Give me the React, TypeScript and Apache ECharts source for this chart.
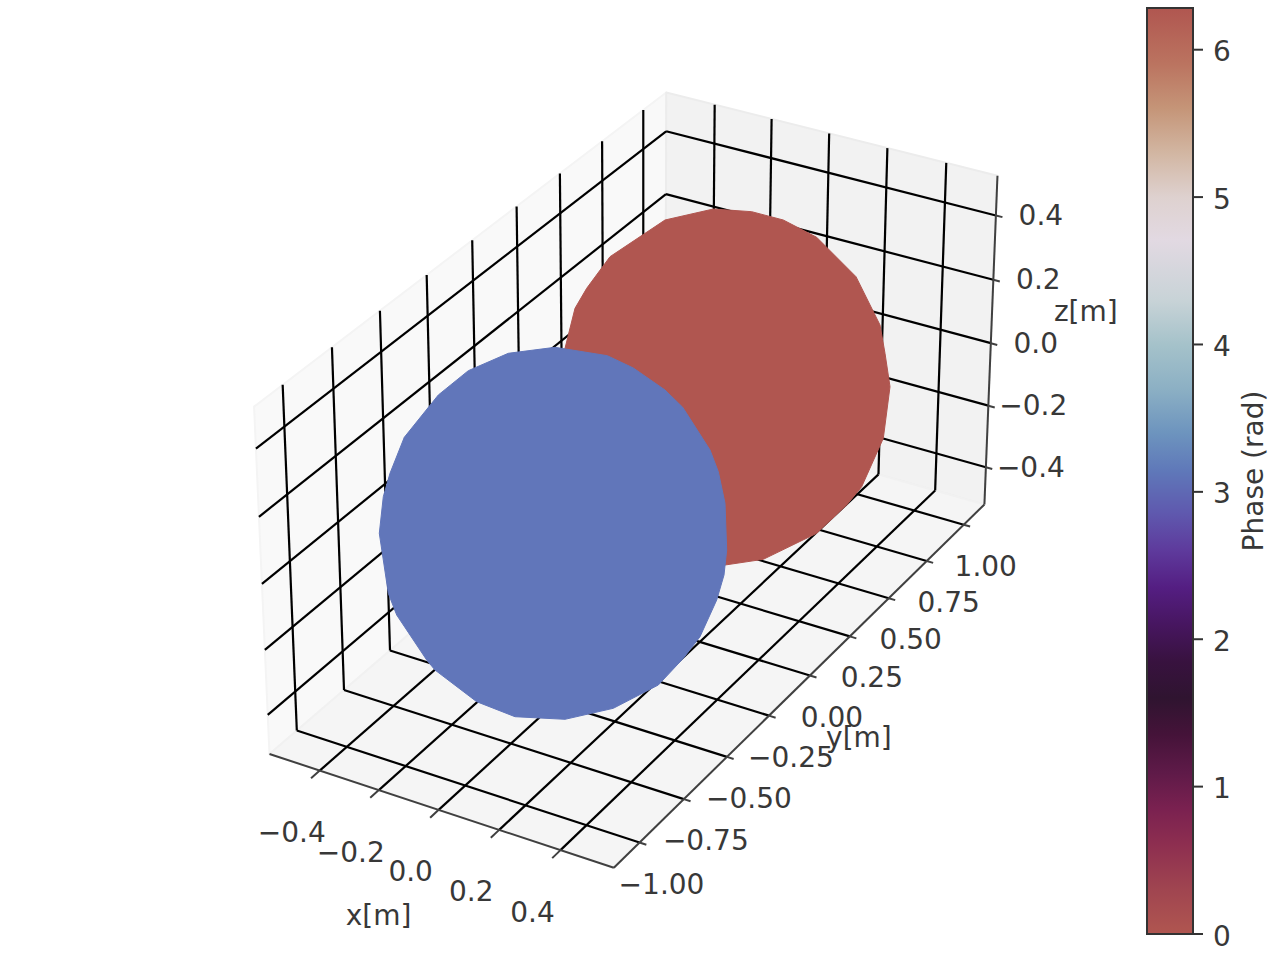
import React, { useEffect, useRef } from "react";
import * as echarts from "echarts";

// ---- axis tick values and labels ----
const xTicks = [-0.4, -0.2, 0, 0.2, 0.4];
const xTickLabels = ["−0.4", "−0.2", "0.0", "0.2", "0.4"];
const yTicks = [-1, -0.75, -0.5, -0.25, 0, 0.25, 0.5, 0.75, 1];
const yTickLabels = ["−1.00", "−0.75", "−0.50", "−0.25", "0.00", "0.25", "0.50", "0.75", "1.00"];
const zTicks = [-0.4, -0.2, 0, 0.2, 0.4];
const zTickLabels = ["−0.4", "−0.2", "0.0", "0.2", "0.4"];
const xLim = [-0.572, 0.572];
const yLim = [-1.142, 1.142];
const zLim = [-0.522, 0.522];

// ---- sphere silhouettes, read in the picture plane ----
const redOutlineX = [665, 713.3, 751.7, 783.3, 816.7, 856, 880, 885, 890, 883.3, 861.7, 846.7, 816.7, 763.3, 725, 650, 550, 550, 565, 575, 586.7, 610];
const redOutlineY = [220, 209, 211.7, 220, 237.3, 276.7, 325, 353.3, 386.7, 438.3, 486.7, 505, 533.3, 559.3, 565, 533, 467, 367, 348.3, 308.3, 288.3, 256.7];
const blueOutlineX = [508.3, 555, 607.3, 633.3, 665, 682.7, 710, 718.3, 725, 726.7, 724, 716.7, 700, 683.3, 658.3, 613.3, 565, 515, 476.7, 435, 426.7, 396.7, 388.3, 379.3, 383.3, 390, 404.3, 438.3, 468.3];
const blueOutlineY = [353.3, 347.3, 355.7, 368, 390, 407.3, 450, 471.7, 503.3, 550, 575, 600, 636.7, 658.3, 685, 708.3, 719.3, 716.7, 701.7, 670, 660, 615, 593.3, 533.3, 496.7, 473.3, 437.3, 395, 370.7];

// ---- colour bar ----
const phaseMax = 6.283;
const phaseTicks = [0, 1, 2, 3, 4, 5, 6];
const phaseTickLabels = ["0", "1", "2", "3", "4", "5", "6"];
const phaseStops = [0, 0.3, 0.6, 0.85, 1.1, 1.35, 1.6, 1.85, 2.1, 2.35, 2.6, 2.85, 3.14, 3.4, 3.7, 4.0, 4.3, 4.71, 5.0, 5.3, 5.6, 5.9, 6.283];
const phaseColors = ["#b05650", "#a04550", "#8e2f50", "#7a2150", "#5e1a48", "#451339", "#2f1430", "#38123f", "#471660", "#541e82", "#5e3a9c", "#5f58ae", "#5f78b9", "#6d94be", "#8cb0c4", "#a5c2ca", "#c8d3d7", "#e2d9e2", "#ded1cf", "#d2b6a2", "#c59578", "#bb7460", "#b05650"];

// ---- camera ----
const camera = { elev: 30, azim: -60, dist: 10, halfX: 0.389, halfY: 0.778, halfZ: 0.389, scale: 5012, cx: 641.5, cy: 458.5 };

function project(x: number, y: number, z: number): [number, number] {
  const dx = ((x - (xLim[0] + xLim[1]) / 2) / ((xLim[1] - xLim[0]) / 2)) * camera.halfX;
  const dy = ((y - (yLim[0] + yLim[1]) / 2) / ((yLim[1] - yLim[0]) / 2)) * camera.halfY;
  const dz = ((z - (zLim[0] + zLim[1]) / 2) / ((zLim[1] - zLim[0]) / 2)) * camera.halfZ;
  const el = (camera.elev * Math.PI) / 180;
  const az = (camera.azim * Math.PI) / 180;
  const w = [Math.cos(el) * Math.cos(az), Math.cos(el) * Math.sin(az), Math.sin(el)];
  const ul = Math.hypot(w[1], w[0]);
  const u = [-w[1] / ul, w[0] / ul, 0];
  const v = [w[1] * u[2] - w[2] * u[1], w[2] * u[0] - w[0] * u[2], w[0] * u[1] - w[1] * u[0]];
  const xv = u[0] * dx + u[1] * dy + u[2] * dz;
  const yv = v[0] * dx + v[1] * dy + v[2] * dz;
  const d = w[0] * dx + w[1] * dy + w[2] * dz;
  const k = camera.scale / (camera.dist - d);
  return [camera.cx + xv * k, camera.cy - yv * k];
}

const FONT = "DejaVu Sans";
const TEXT = "#383838";
const EDGE = "#404040";
const FS = 28;
const xMin = xLim[0], xMax = xLim[1], yMin = yLim[0], yMax = yLim[1], zMin = zLim[0], zMax = zLim[1];
const tickOutX = 0.022, tickOutY = 0.045;

function polygonSeries(name: string, pts: number[][], fill: string, stroke?: string, lw = 0): any {
  return {
    type: "custom", name, xAxisIndex: 0, yAxisIndex: 0, silent: true, clip: false,
    data: [pts[0]], encode: { x: 0, y: 1 },
    renderItem: (_p: any, api: any) => ({
      type: "polygon",
      shape: { points: pts.map((q) => api.coord(q)) },
      style: { fill, stroke: stroke || fill, lineWidth: stroke ? lw : 1, lineJoin: "round" },
    }),
  };
}

function segmentSeries(name: string, segs: number[][], stroke: string, lw: number): any {
  return {
    type: "custom", name, xAxisIndex: 0, yAxisIndex: 0, silent: true, clip: false,
    data: segs, encode: { x: 0, y: 1 },
    renderItem: (_p: any, api: any) => {
      const a = api.coord([api.value(0), api.value(1)]);
      const b = api.coord([api.value(2), api.value(3)]);
      return { type: "line", shape: { x1: a[0], y1: a[1], x2: b[0], y2: b[1] }, style: { stroke, lineWidth: lw, lineCap: "butt" } };
    },
  };
}

function textSeries(name: string, pts: number[][], labels: string[], dx: number, dy: number, size: number): any {
  return {
    type: "custom", name, xAxisIndex: 0, yAxisIndex: 0, silent: true, clip: false,
    data: pts, encode: { x: 0, y: 1 },
    renderItem: (p: any, api: any) => {
      const a = api.coord([api.value(0), api.value(1)]);
      return {
        type: "text", x: a[0] + dx, y: a[1] + dy,
        style: { text: labels[p.dataIndex], fontFamily: FONT, fontSize: size, fill: TEXT, align: "center", verticalAlign: "middle" },
      };
    },
  };
}

const seg = (a: [number, number], b: [number, number]) => [a[0], a[1], b[0], b[1]];

function buildOption(): any {
  const A = project(xMin, yMin, zMin), B = project(xMax, yMin, zMin), C = project(xMax, yMax, zMin);
  const D = project(xMax, yMax, zMax), E = project(xMin, yMax, zMax), F = project(xMin, yMin, zMax), G = project(xMin, yMax, zMin);

  const grid: number[][] = [];
  xTicks.forEach((x) => {
    grid.push(seg(project(x, yMin, zMin), project(x, yMax, zMin)));
    grid.push(seg(project(x, yMax, zMin), project(x, yMax, zMax)));
  });
  yTicks.forEach((y) => {
    grid.push(seg(project(xMax, y, zMin), project(xMin, y, zMin)));
    grid.push(seg(project(xMin, y, zMin), project(xMin, y, zMax)));
  });
  zTicks.forEach((z) => {
    grid.push(seg(project(xMin, yMin, z), project(xMin, yMax, z)));
    grid.push(seg(project(xMin, yMax, z), project(xMax, yMax, z)));
  });

  const ticks: number[][] = [];
  xTicks.forEach((x) => ticks.push(seg(project(x, yMin, zMin), project(x, yMin - tickOutY, zMin))));
  yTicks.forEach((y) => ticks.push(seg(project(xMax, y, zMin), project(xMax + tickOutX, y, zMin))));
  zTicks.forEach((z) => ticks.push(seg(project(xMax, yMax, z), project(xMax + tickOutX, yMax, z))));

  const axes = [seg(A, B), seg(B, C), seg(C, D)];

  const colorStops = phaseStops.map((s, i) => ({ offset: s / phaseMax, color: phaseColors[i] }));

  return {
    animation: false,
    backgroundColor: "#ffffff",
    grid: [
      { left: 0, top: 0, width: 1280, height: 960, show: false },
      { left: 1147, top: 8, width: 46, height: 926, show: false },
    ],
    xAxis: [
      { type: "value", gridIndex: 0, min: 0, max: 1280, show: false },
      { type: "value", gridIndex: 1, min: 0, max: 1, show: false },
    ],
    yAxis: [
      { type: "value", gridIndex: 0, min: 0, max: 960, inverse: true, show: false },
      {
        type: "value", gridIndex: 1, min: 0, max: phaseMax, position: "right",
        name: "Phase (rad)", nameLocation: "middle", nameGap: 46, nameRotate: 90,
        nameTextStyle: { fontFamily: FONT, fontSize: FS, color: TEXT },
        splitLine: { show: false },
        axisLine: { show: false },
        axisTick: { show: false },
        axisLabel: { show: false },
      },
    ],
    series: [
      polygonSeries("pane x", [F, A, G, E], "#f9f9f9", "#f4f4f4", 2),
      polygonSeries("pane y", [C, D, E, G], "#f2f2f2", "#ececec", 2),
      polygonSeries("pane z", [A, B, C, G], "#f5f5f5", "#f1f1f1", 2),
      segmentSeries("grid", grid, "#000000", 2.2),
      segmentSeries("axes", axes, EDGE, 2),
      segmentSeries("ticks", ticks, EDGE, 2),
      polygonSeries("phase 0 sphere", redOutlineX.map((x, i) => [x, redOutlineY[i]]), "#b05650"),
      polygonSeries("phase pi sphere", blueOutlineX.map((x, i) => [x, blueOutlineY[i]]), "#6176ba"),
      textSeries("x ticks", xTicks.map((x) => project(x, yMin, zMin)), xTickLabels, -28, 62, FS),
      textSeries("y ticks", yTicks.map((y) => project(xMax, y, zMin)), yTickLabels, 22, 41.5, FS),
      textSeries("z ticks", zTicks.map((z) => project(xMax, yMax, z)), zTickLabels, 45, 0, FS),
      textSeries("x name", [project(0, yMin, zMin)], ["x[m]"], -60, 106, FS),
      textSeries("y name", [project(xMax, 0, zMin)], ["y[m]"], 49, 62, FS),
      textSeries("z name", [project(xMax, yMax, 0)], ["z[m]"], 95, -32, FS),
      {
        type: "custom", name: "colour bar", xAxisIndex: 1, yAxisIndex: 1, silent: true, clip: false, z: 5,
        data: [[0, 0, 1, phaseMax]], encode: { x: 0, y: 1 },
        renderItem: (_p: any, api: any) => {
          const a = api.coord([api.value(0), api.value(1)]);
          const b = api.coord([api.value(2), api.value(3)]);
          return {
            type: "rect",
            shape: { x: a[0], y: b[1], width: b[0] - a[0], height: a[1] - b[1] },
            style: {
              fill: new echarts.graphic.LinearGradient(0, 1, 0, 0, colorStops),
              stroke: "#333333", lineWidth: 2,
            },
          };
        },
      },
      {
        type: "custom", name: "colour bar ticks", xAxisIndex: 1, yAxisIndex: 1, silent: true, clip: false, z: 5,
        data: phaseTicks.map((t) => [1, t]), encode: { x: 0, y: 1 },
        renderItem: (p: any, api: any) => {
          const a = api.coord([api.value(0), api.value(1)]);
          return {
            type: "group",
            children: [
              { type: "line", shape: { x1: a[0], y1: a[1], x2: a[0] + 10, y2: a[1] }, style: { stroke: "#333333", lineWidth: 2 } },
              {
                type: "text", x: a[0] + 20, y: a[1] + 2,
                style: { text: phaseTickLabels[p.dataIndex], fontFamily: FONT, fontSize: FS, fill: TEXT, align: "left", verticalAlign: "middle" },
              },
            ],
          };
        },
      },
    ],
  };
}

export default function App() {
  const ref = useRef<HTMLDivElement>(null);
  useEffect(() => {
    const chart = echarts.init(ref.current as HTMLDivElement, undefined, { renderer: "svg" });
    chart.setOption(buildOption());
    return () => chart.dispose();
  }, []);
  return <div ref={ref} style={{ position: "absolute", left: 0, top: 0, width: 1280, height: 960 }} />;
}
